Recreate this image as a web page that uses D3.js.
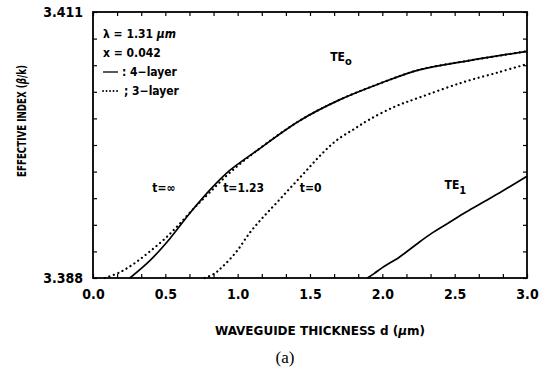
<!DOCTYPE html>
<html>
<head>
<meta charset="utf-8">
<script src="https://cdn.jsdelivr.net/npm/d3@7"></script>
<style>
  html, body { margin: 0; padding: 0; background: #fff; }
  svg { display: block; }
  .lbl { font-family: "DejaVu Sans Condensed", "DejaVu Sans", sans-serif; font-weight: bold; fill: #000; }
</style>
</head>
<body>
<div id="chart"></div>
<script>
// x: waveguide thickness d (um), y: effective index (beta/k)
const te0FourLayer = [
  [0.255, 3.3880], [0.393, 3.3895], [0.531, 3.3914], [0.669, 3.3936], [0.807, 3.3956],
  [0.945, 3.3973], [1.131, 3.3990], [1.428, 3.4016], [1.703, 3.4034], [1.979, 3.4048],
  [2.255, 3.4060], [2.600, 3.4068], [3.000, 3.4076]
];
const te0ThreeLayerInf = [
  [0.083, 3.3880], [0.186, 3.3885], [0.290, 3.3893], [0.393, 3.3903], [0.497, 3.3914],
  [0.600, 3.3927], [0.703, 3.3941], [0.807, 3.3954], [0.945, 3.3971], [1.131, 3.3990],
  [1.428, 3.4016], [1.703, 3.4034], [1.979, 3.4048], [2.255, 3.4060], [2.600, 3.4068],
  [3.000, 3.4076]
];
const te0ThreeLayerZero = [
  [0.772, 3.3880], [0.841, 3.3884], [0.897, 3.3890], [0.993, 3.3903], [1.083, 3.3919],
  [1.172, 3.3932], [1.269, 3.3945], [1.372, 3.3959], [1.476, 3.3973], [1.579, 3.3987],
  [1.683, 3.3999], [1.807, 3.4009], [1.910, 3.4017], [2.083, 3.4028], [2.255, 3.4036],
  [2.552, 3.4049], [2.807, 3.4058], [3.000, 3.4065]
];
const te1FourLayer = [
  [1.897, 3.3880], [1.945, 3.3884], [2.000, 3.3889], [2.117, 3.3898], [2.234, 3.3909],
  [2.345, 3.3919], [2.462, 3.3928], [2.579, 3.3937], [2.690, 3.3945], [2.828, 3.3955],
  [3.000, 3.3968]
];
const xTickLabels = [0, 0.5, 1.0, 1.5, 2.0, 2.5, 3.0];
const yTickLabels = [3.388, 3.411];
const curveNotes = [
  { text: "t=\u221e", d: 0.41, n: 3.39545 },
  { text: "t=1.23", d: 0.90, n: 3.39545 },
  { text: "t=0", d: 1.43, n: 3.39545 }
];

const W = 553, H = 375;
const svg = d3.select('#chart').append('svg').attr('width', W).attr('height', H);

const x = d3.scaleLinear().domain([0, 3]).range([93, 527]);
const y = d3.scaleLinear().domain([3.388, 3.411]).range([278, 12]);

// minor ticks, inward on all four sides
const xMinor = d3.range(0, 3.0001, 0.5 / 3);
const yMinor = d3.range(0, 11).map(i => 3.388 + i * 0.0023);
const tickLen = 4;
svg.append('g').attr('transform', `translate(0,${y(3.388)})`)
  .call(d3.axisTop(x).tickValues(xMinor).tickSize(tickLen).tickFormat(''));
svg.append('g').attr('transform', `translate(0,${y(3.411)})`)
  .call(d3.axisBottom(x).tickValues(xMinor).tickSize(tickLen).tickFormat(''));
svg.append('g').attr('transform', `translate(${x(0)},0)`)
  .call(d3.axisRight(y).tickValues(yMinor).tickSize(tickLen).tickFormat(''));
svg.append('g').attr('transform', `translate(${x(3)},0)`)
  .call(d3.axisLeft(y).tickValues(yMinor).tickSize(tickLen).tickFormat(''));
svg.selectAll('.domain').remove();
svg.selectAll('.tick line').attr('stroke', '#000').attr('stroke-width', 1.2);

// tick labels
const xAxis = svg.append('g').attr('transform', `translate(0,${y(3.388)})`)
  .call(d3.axisBottom(x).tickValues(xTickLabels).tickSize(0).tickPadding(11).tickFormat(d3.format('.1f')));
xAxis.select('.domain').remove();
xAxis.selectAll('text').attr('class', 'lbl').style('font-size', '14px');

const yAxis = svg.append('g').attr('transform', `translate(${x(0)},0)`)
  .call(d3.axisLeft(y).tickValues(yTickLabels).tickSize(0).tickPadding(10).tickFormat(d3.format('.3f')));
yAxis.select('.domain').remove();
yAxis.selectAll('text').attr('class', 'lbl').style('font-size', '14px');

// frame
svg.append('rect')
  .attr('x', x(0)).attr('y', y(3.411))
  .attr('width', x(3) - x(0)).attr('height', y(3.388) - y(3.411))
  .attr('fill', 'none').attr('stroke', '#000').attr('stroke-width', 1.8);

const line = d3.line().x(d => x(d[0])).y(d => y(d[1])).curve(d3.curveCatmullRom.alpha(0.5));

const dotted = { dash: '0.1,4.6', w: 2.2 };
[te0ThreeLayerInf, te0ThreeLayerZero].forEach(s => {
  svg.append('path').datum(s).attr('d', line)
    .attr('fill', 'none').attr('stroke', '#000')
    .attr('stroke-width', dotted.w).attr('stroke-linecap', 'round')
    .attr('stroke-dasharray', dotted.dash);
});
[te0FourLayer, te1FourLayer].forEach(s => {
  svg.append('path').datum(s).attr('d', line)
    .attr('fill', 'none').attr('stroke', '#000').attr('stroke-width', 1.7);
});

// legend block
const lg = svg.append('g').attr('class', 'lbl').style('font-size', '12px');
lg.append('text').attr('x', 103).attr('y', 38).html('\u03bb = 1.31 <tspan font-style="italic">\u03bcm</tspan>');
lg.append('text').attr('x', 103).attr('y', 57).text('x = 0.042');
lg.append('line').attr('x1', 103).attr('x2', 118).attr('y1', 72).attr('y2', 72)
  .attr('stroke', '#000').attr('stroke-width', 1.3);
lg.append('text').attr('x', 122).attr('y', 76).text(': 4\u2212layer');
lg.append('line').attr('x1', 103).attr('x2', 120).attr('y1', 91).attr('y2', 91)
  .attr('stroke', '#000').attr('stroke-width', 1.8).attr('stroke-linecap', 'round')
  .attr('stroke-dasharray', '0.1,3.4');
lg.append('text').attr('x', 124).attr('y', 95).text('; 3\u2212layer');

// mode labels
const ml = svg.append('g').attr('class', 'lbl').style('font-size', '12px');
ml.append('text').attr('x', x(1.64)).attr('y', y(3.4068))
  .html('TE<tspan dy="4" font-size="11px">o</tspan>');
ml.append('text').attr('x', x(2.43)).attr('y', y(3.3957))
  .html('TE<tspan dy="5" font-size="11px">1</tspan>');
ml.selectAll('text.note').data(curveNotes).enter().append('text')
  .attr('class', 'note')
  .attr('x', d => x(d.d)).attr('y', d => y(d.n))
  .style('font-size', '12px')
  .text(d => d.text);

// axis titles
svg.append('text').attr('class', 'lbl')
  .attr('transform', 'translate(26,121) rotate(-90)')
  .attr('text-anchor', 'middle')
  .attr('textLength', 112).attr('lengthAdjust', 'spacingAndGlyphs')
  .style('font-size', '12px')
  .html('EFFECTIVE INDEX (<tspan font-style="italic">\u03b2</tspan>/k)');
svg.append('text').attr('class', 'lbl')
  .attr('x', 320).attr('y', 335).attr('text-anchor', 'middle')
  .attr('textLength', 210).attr('lengthAdjust', 'spacingAndGlyphs')
  .style('font-size', '13px')
  .html('WAVEGUIDE THICKNESS d (<tspan font-style="italic">\u03bc</tspan>m)');
svg.append('text')
  .attr('x', 285).attr('y', 363).attr('text-anchor', 'middle')
  .style('font-family', '"Liberation Serif", "Times New Roman", serif')
  .style('font-size', '17px')
  .text('(a)');
</script>
</body>
</html>
